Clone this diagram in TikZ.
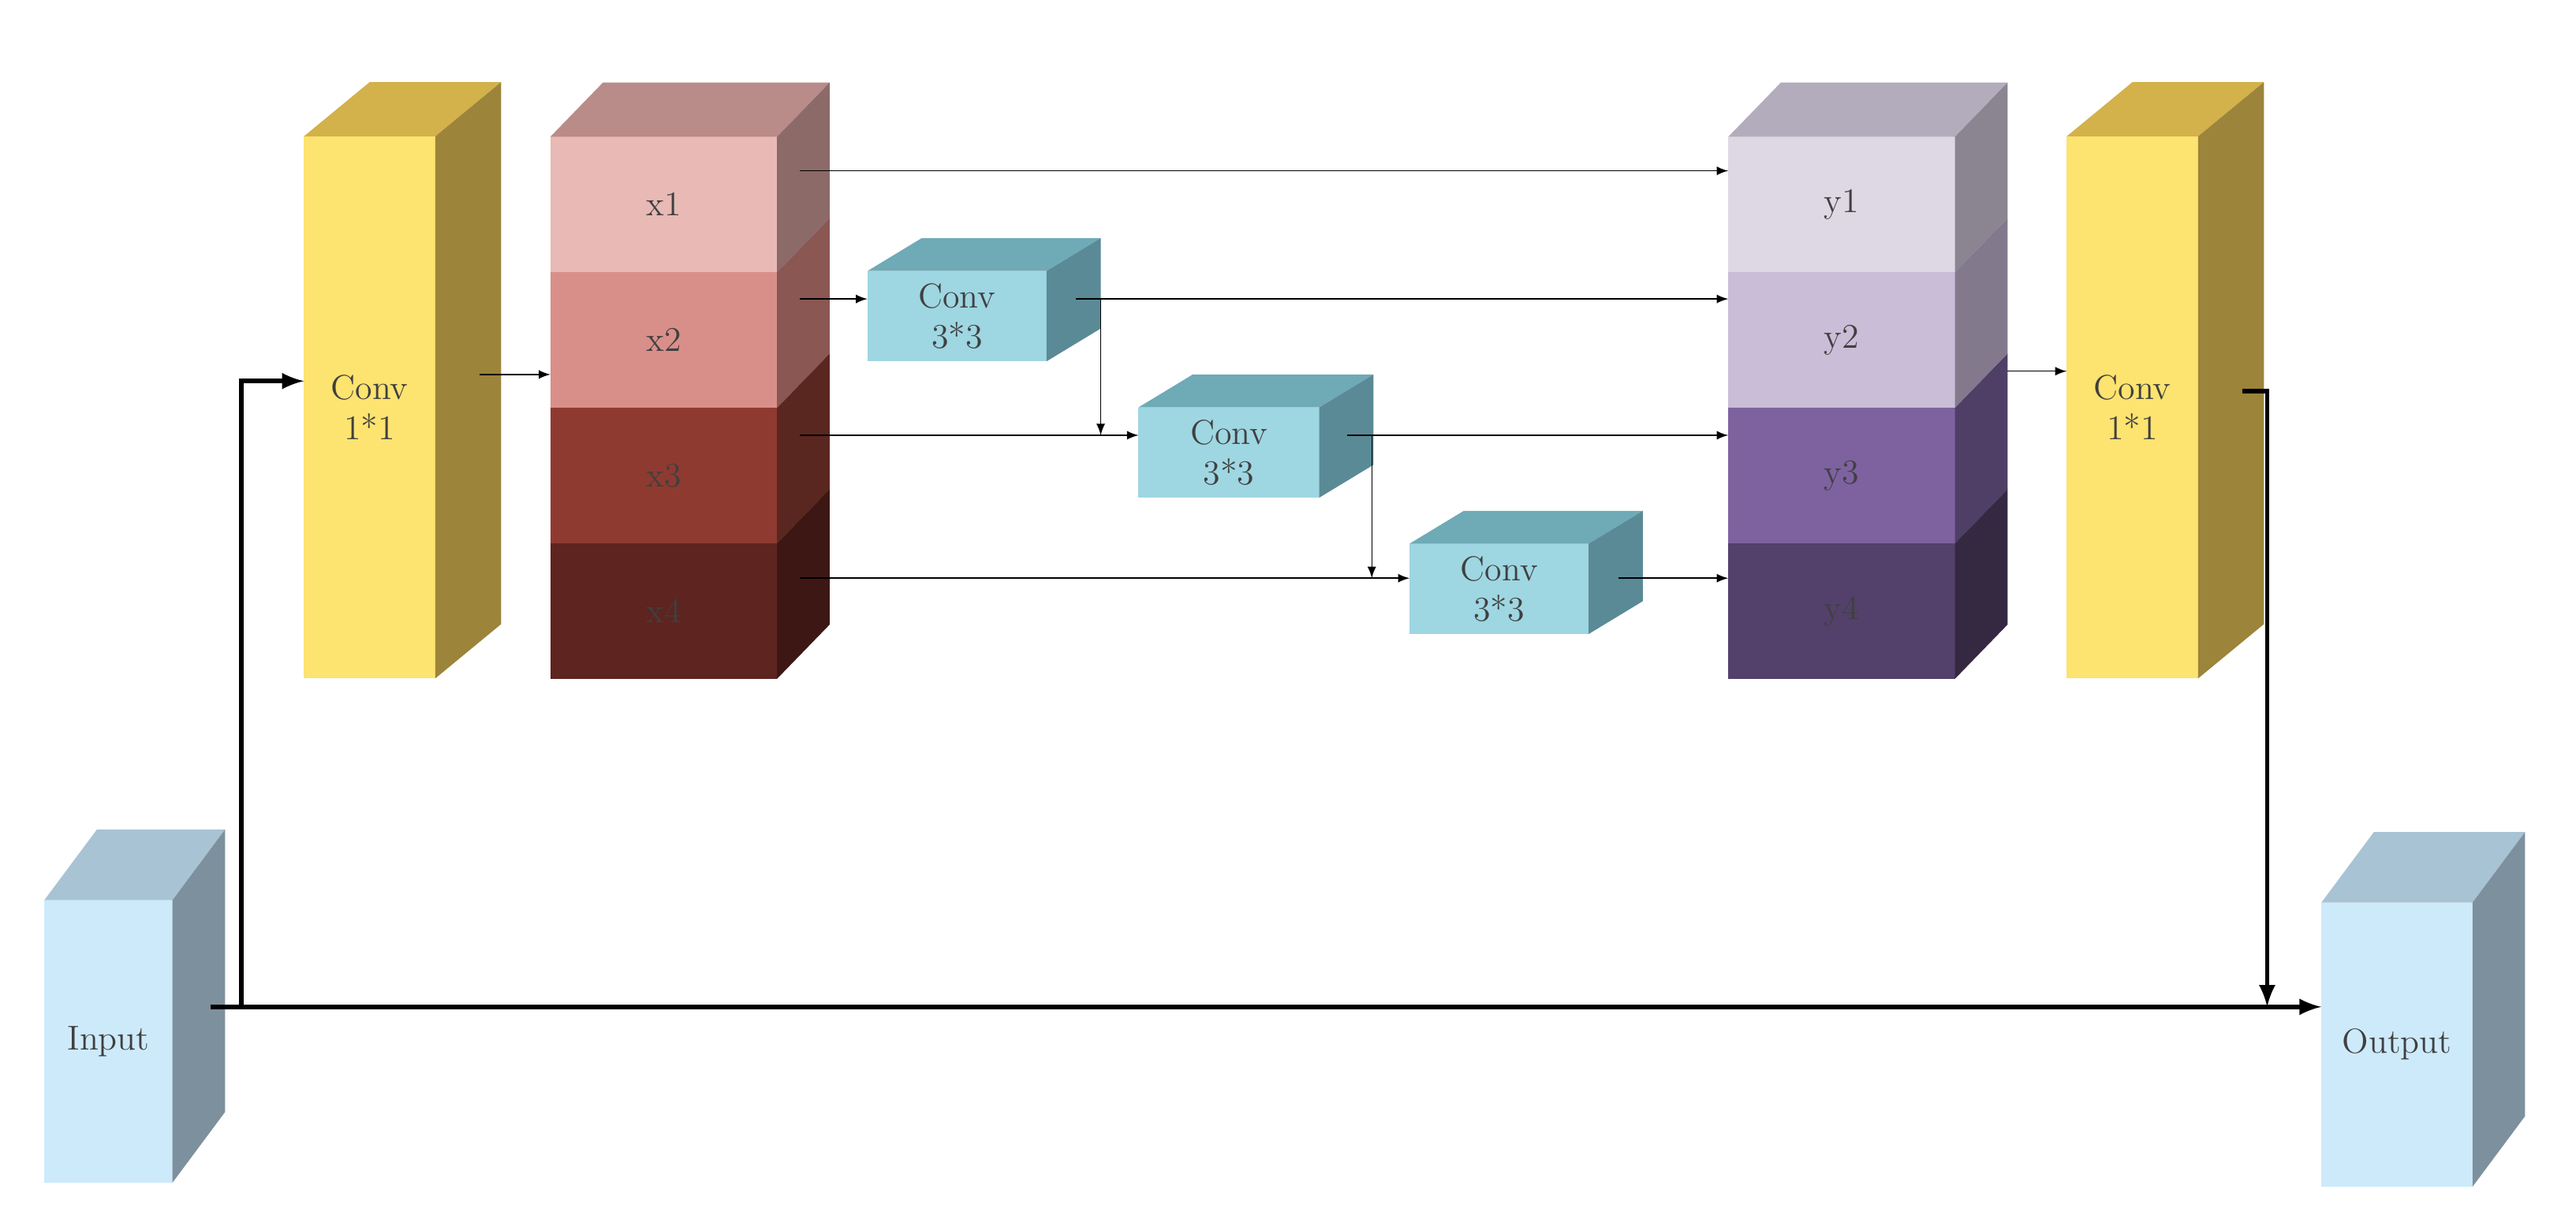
\documentclass[tikz,border=0pt]{standalone}
\usetikzlibrary{positioning}
\definecolor{yelF}{HTML}{FDE36F}\definecolor{yelS}{HTML}{9C843A}\definecolor{yelT}{HTML}{D3B14B}
\definecolor{cnvF}{HTML}{9ED6E2}\definecolor{cnvS}{HTML}{5A8A96}\definecolor{cnvT}{HTML}{6FAAB7}
\definecolor{inpF}{HTML}{CDEAFB}\definecolor{inpS}{HTML}{7D909D}\definecolor{inpT}{HTML}{A8C3D4}
\definecolor{xaF}{HTML}{E8B9B5}\definecolor{xaS}{HTML}{8C6A68}\definecolor{xaT}{HTML}{B98C89}
\definecolor{xbF}{HTML}{D98F89}\definecolor{xbS}{HTML}{8A5753}
\definecolor{xcF}{HTML}{8F3A30}\definecolor{xcS}{HTML}{5A2620}
\definecolor{xdF}{HTML}{5E2420}\definecolor{xdS}{HTML}{3D1714}
\definecolor{yaF}{HTML}{DED7E4}\definecolor{yaS}{HTML}{8A8591}\definecolor{yaT}{HTML}{B3ACBC}
\definecolor{ybF}{HTML}{C9BDD7}\definecolor{ybS}{HTML}{827A8C}
\definecolor{ycF}{HTML}{7E62A0}\definecolor{ycS}{HTML}{4F3E66}
\definecolor{ydF}{HTML}{53406B}\definecolor{ydS}{HTML}{352942}
\tikzset{
  blk/.style = {inner sep=0pt, outer sep=0pt, text=black!75, align=center, font=\large},
  lnk/.style = {-latex, thin},
  bus/.style = {-latex, line width=1.6pt},
}
% #1 name, #2 centre, #3 width, #4 height, #5 depth, #6 front, #7 side, #8 top, #9 text
\newcommand\block[9]{
  \node[blk, fill=#6, minimum width=#3*0.02cm, minimum height=#4*0.02cm] (#1) at (#2) {#9};
  \fill[#8] (#1.north west) -- ++(#5) -- ++(#3,0) -- (#1.north east) -- cycle;
  \fill[#7] (#1.north east) -- ++(#5) -- ++(0,#4) -- (#1.south east) -- cycle;
}
\begin{document}
\begin{tikzpicture}[x=0.02cm, y=-0.02cm]
  \useasboundingbox (0,0) rectangle (1568,747);
  % Input / Output
  \block{inp}{66,634}{78}{172}{32,-43}{inpF}{inpS}{inpT}{Input}
  \block{outp}{1459,636}{92}{173}{32,-43}{inpF}{inpS}{inpT}{Output}
  % Conv 1*1
  \block{cva}{225,248}{80}{330}{40,-33}{yelF}{yelS}{yelT}{Conv\\1*1}
  \block{cvb}{1298,248}{80}{330}{40,-33}{yelF}{yelS}{yelT}{Conv\\1*1}
  % split stack
  \block{xd}{404,372}{138}{82.5}{32,-33}{xdF}{xdS}{xdF}{x4}
  \block{xc}{404,289.5}{138}{82.5}{32,-33}{xcF}{xcS}{xcF}{x3}
  \block{xb}{404,207}{138}{82.5}{32,-33}{xbF}{xbS}{xbF}{x2}
  \block{xa}{404,124.5}{138}{82.5}{32,-33}{xaF}{xaS}{xaT}{x1}
  % merge stack
  \block{yd}{1121,372}{138}{82.5}{32,-33}{ydF}{ydS}{ydF}{y4}
  \block{yc}{1121,289.5}{138}{82.5}{32,-33}{ycF}{ycS}{ycF}{y3}
  \block{yb}{1121,207}{138}{82.5}{32,-33}{ybF}{ybS}{ybF}{y2}
  \block{ya}{1121,124.5}{138}{82.5}{32,-33}{yaF}{yaS}{yaT}{y1}
  % Conv 3*3
  \block{cc}{912.5,358.5}{109}{55}{33,-20}{cnvF}{cnvS}{cnvT}{Conv\\3*3}
  \block{cbb}{748,275.5}{110}{55}{33,-20}{cnvF}{cnvS}{cnvT}{Conv\\3*3}
  \block{ca}{582.5,192.5}{109}{55}{33,-20}{cnvF}{cnvS}{cnvT}{Conv\\3*3}
  % links
  \coordinate (sa) at (487,104);  \coordinate (sb) at (487,182);
  \coordinate (sc) at (487,265);  \coordinate (sd) at (487,352);
  \draw[lnk] (sa) -- (sa -| ya.west);
  \draw[lnk] (sb) -- (sb -| ca.west);
  \draw[lnk] (sc) -- (sc -| cbb.west);
  \draw[lnk] (sd) -- (sd -| cc.west);
  \coordinate (oa) at (655,182);  \coordinate (ob) at (820,265);
  \coordinate (oc) at (985,352);
  \draw[lnk] (oa) -- (oa -| yb.west);
  \draw[lnk] (670,182) -- (670,265);
  \draw[lnk] (ob) -- (ob -| yc.west);
  \draw[lnk] (835,265) -- (835,352);
  \draw[lnk] (oc) -- (oc -| yd.west);
  \coordinate (ea) at (292,228);  \coordinate (eb) at (1222,226);
  \draw[lnk] (ea) -- (ea -| xa.west);
  \draw[lnk] (eb) -- (eb -| cvb.west);
  % main path
  \coordinate (br) at (147,613);  \coordinate (up) at (147,232);
  \coordinate (ec) at (1365,238);  \coordinate (dn) at (1380,613);
  \draw[bus] (128,613) -- (br -| outp.west);
  \draw[bus] (br) -- (up) -- (up -| cva.west);
  \draw[bus] (ec) -- (ec -| dn) -- (dn);
\end{tikzpicture}
\end{document}
